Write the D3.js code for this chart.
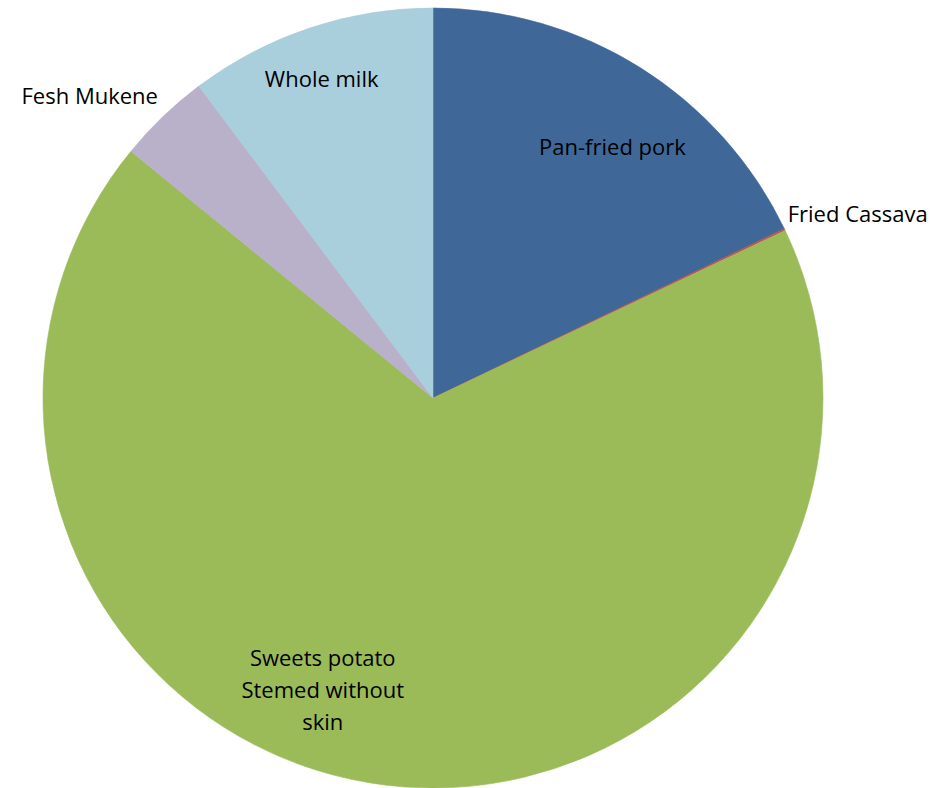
<!DOCTYPE html>
<html lang="en">
<head>
<meta charset="utf-8">
<title>Pie</title>
<script src="https://d3js.org/d3.v7.min.js"></script>
<style>
  body { margin: 0; background: #fff; }
  svg text { font-family: "Open Sans", "Liberation Sans", sans-serif; font-size: 22px; fill: #000; }
</style>
</head>
<body>
<div id="chart"></div>
<script>
// data, clockwise from 12 o'clock
var categories = ["Pan-fried pork", "Fried Cassava", "Sweets potato Stemed without skin", "Fesh Mukene", "Whole milk"];
var values = [17.85, 0.08, 67.97, 3.85, 10.25];
var colors = ["#3F6899", "#C0504D", "#9BBB59", "#B9B0CA", "#A9CEDC"];

// label lines and placement (radius factor, angle shift in degrees)
var labelLines = [["Pan-fried pork"], ["Fried Cassava"], ["Sweets potato", "Stemed without", "skin"], ["Fesh Mukene"], ["Whole milk"]];
var labelPos = [{ r: 0.79, da: 3.5, anchor: "middle" },
                { r: 1.0, da: 0, anchor: "start", dx: 3, dy: -15 },
                { r: 0.80, da: 13.8, anchor: "middle" },
                { r: 1.0, da: 0, anchor: "end", dx: -5, dy: -20 },
                { r: 0.87, da: -0.7, anchor: "middle", dy: 2 }];

var w = 938, h = 788;
var cx = 433, cy = 398, radius = 390;

var svg = d3.select("#chart").append("svg")
  .attr("width", w)
  .attr("height", h);

var g = svg.append("g").attr("transform", "translate(" + cx + "," + cy + ")");

var pie = d3.pie().sort(null).value(function(d) { return d; });
var arcs = pie(values);

var arc = d3.arc().innerRadius(0).outerRadius(radius);

g.selectAll("path")
  .data(arcs)
  .enter()
  .append("path")
  .attr("d", arc)
  .attr("fill", function(d, i) { return colors[i]; })
  .attr("stroke", function(d, i) { return colors[i]; })
  .attr("stroke-width", 0.6);

var lineH = 32;
g.selectAll("text.lbl")
  .data(arcs)
  .enter()
  .append("text")
  .attr("class", "lbl")
  .attr("text-anchor", function(d, i) { return labelPos[i].anchor; })
  .each(function(d, i) {
    var p = labelPos[i];
    var a = (d.startAngle + d.endAngle) / 2 + p.da * Math.PI / 180;
    var x = Math.sin(a) * radius * p.r + (p.dx || 0);
    var y = -Math.cos(a) * radius * p.r + (p.dy || 0);
    var lines = labelLines[i];
    var y0 = y - (lines.length - 1) * lineH / 2;
    d3.select(this).selectAll("tspan")
      .data(lines)
      .enter()
      .append("tspan")
      .attr("x", x)
      .attr("y", function(t, j) { return y0 + j * lineH; })
      .attr("dy", "0.35em")
      .text(function(t) { return t; });
  });
</script>
</body>
</html>
